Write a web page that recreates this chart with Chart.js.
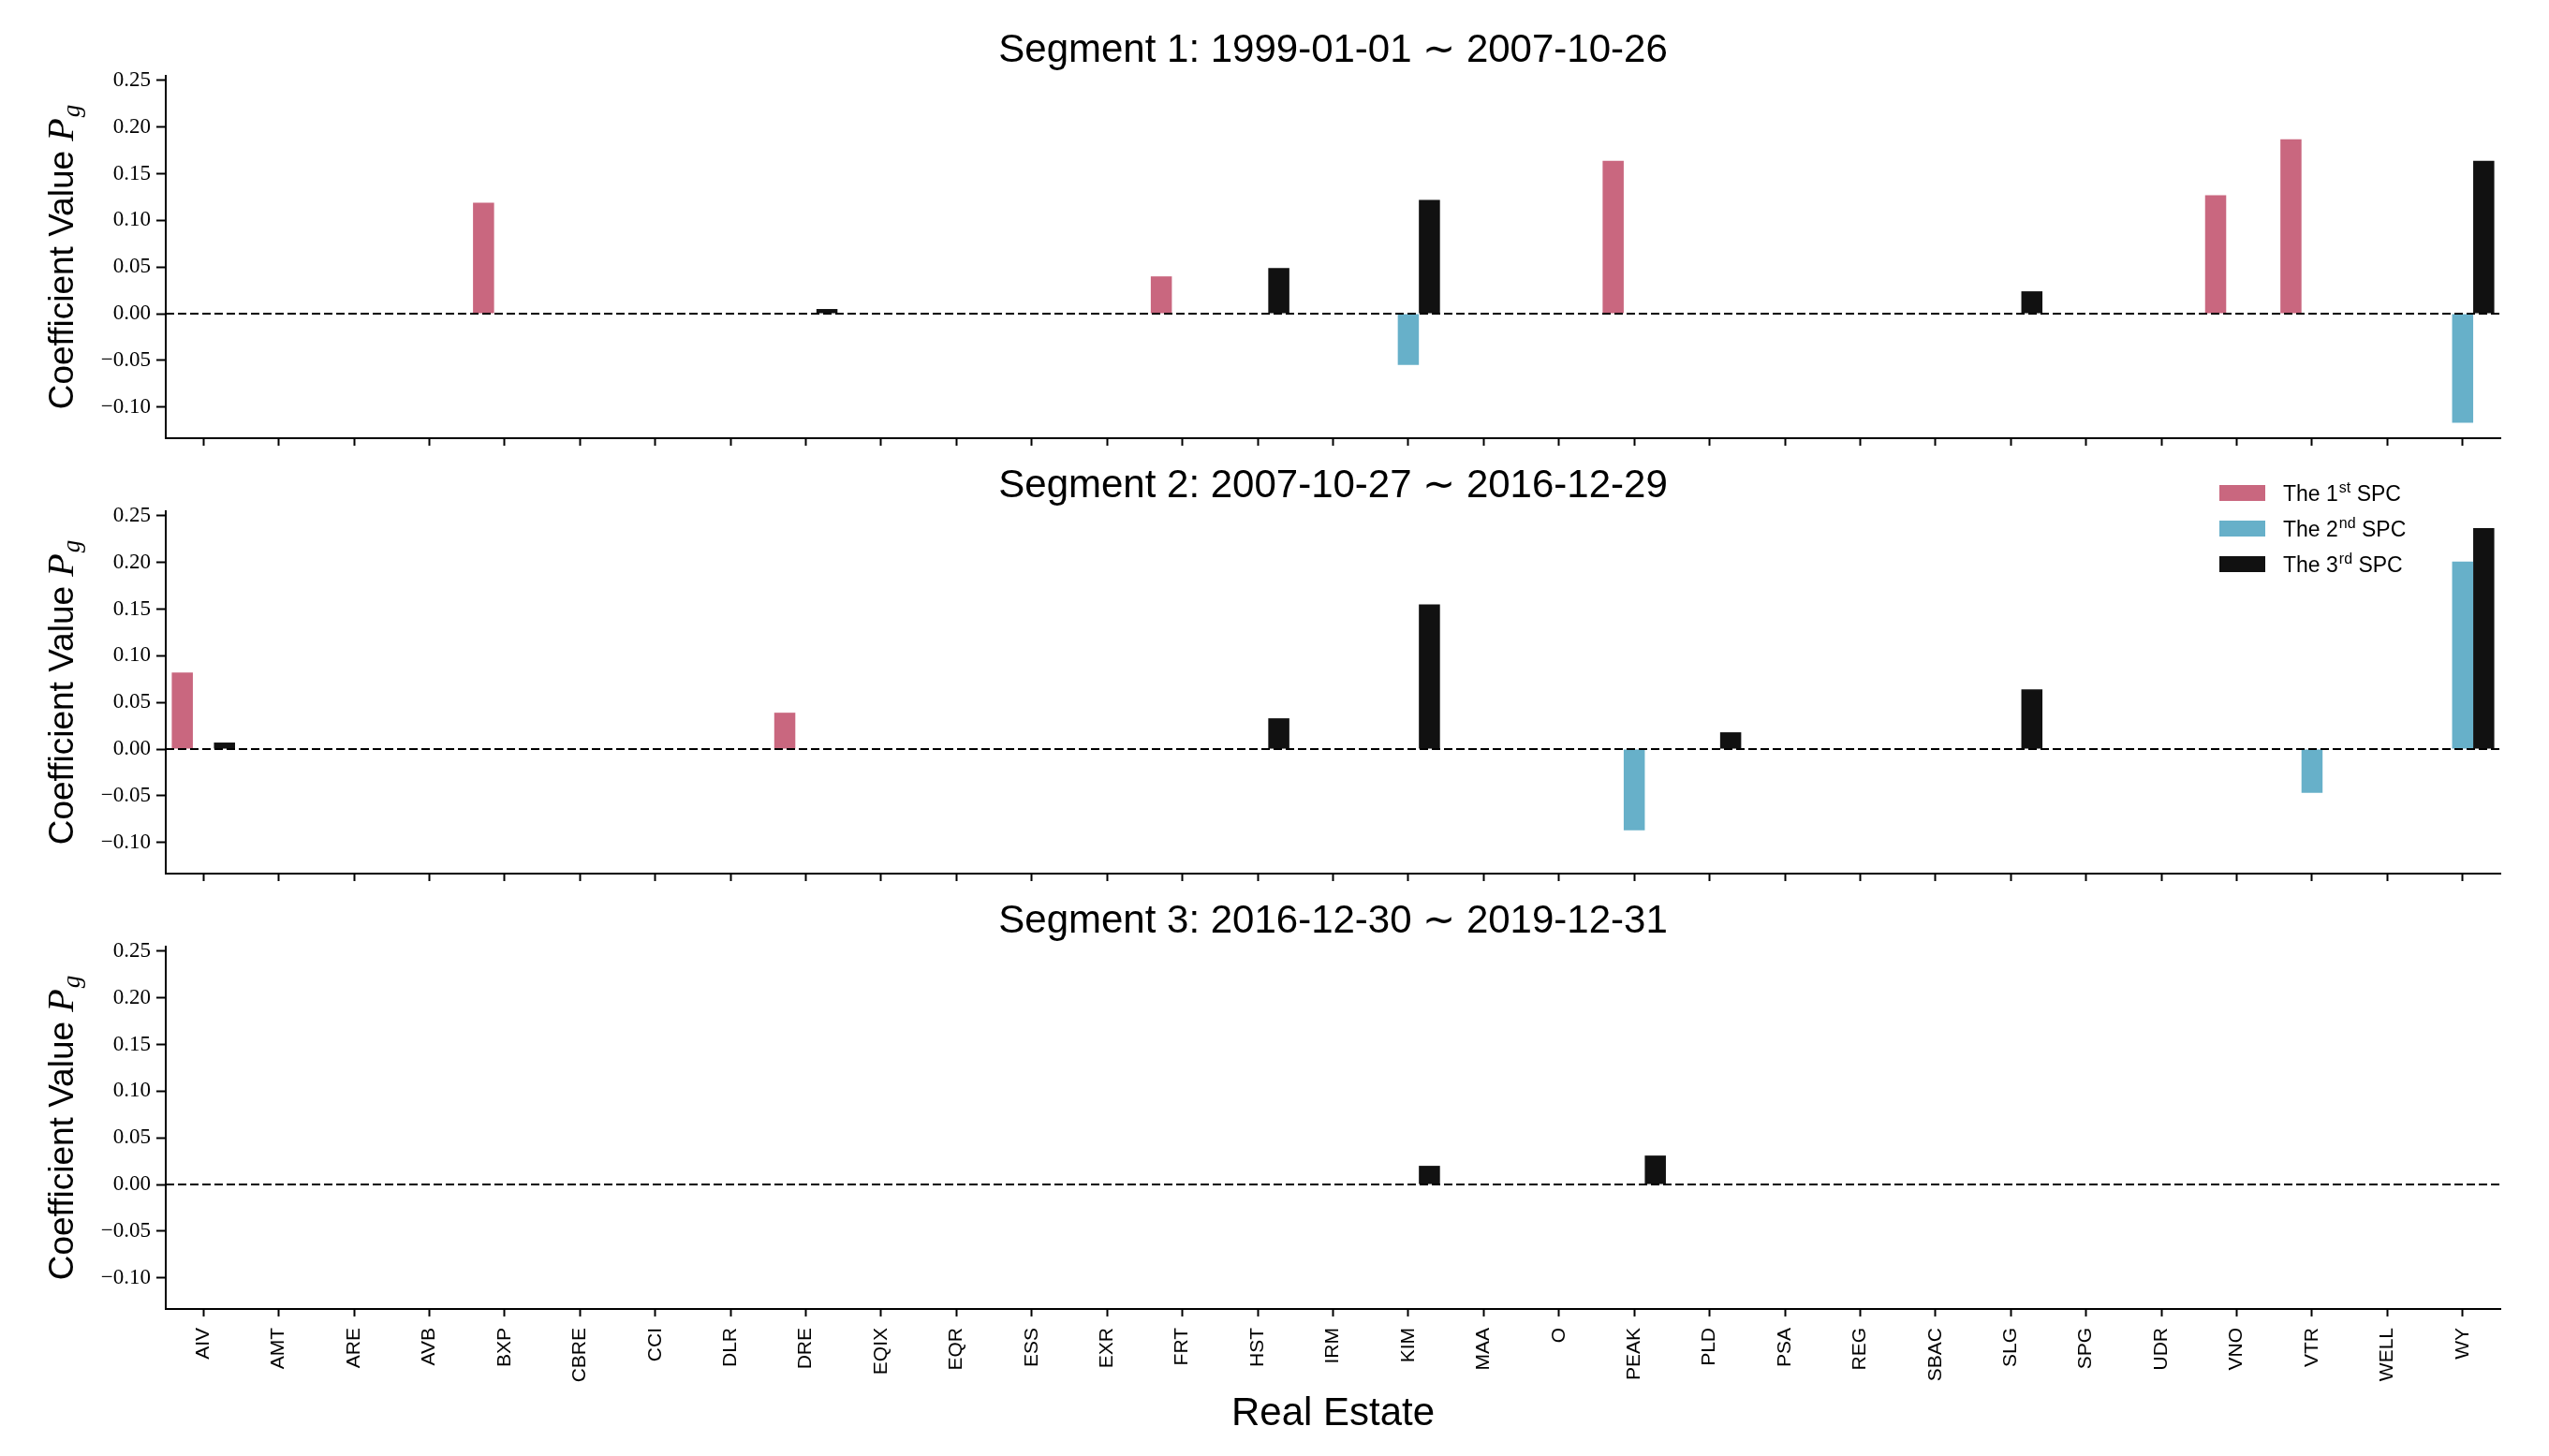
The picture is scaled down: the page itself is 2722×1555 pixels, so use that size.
<!DOCTYPE html>
<html>
<head>
<meta charset="utf-8">
<title>Segment coefficients</title>
<script src="https://cdn.jsdelivr.net/npm/chart.js@4.4.1/dist/chart.umd.min.js"></script>
<style>
  html, body { margin: 0; padding: 0; background: #ffffff; }
  #wrap { position: relative; width: 2722px; height: 1555px; background: #ffffff; overflow: hidden; }
  canvas { position: absolute; left: 0; display: block; }
</style>
</head>
<body>
<div id="wrap">
  <canvas id="c1" width="2722" height="480" style="top:0px"></canvas>
  <canvas id="c2" width="2722" height="480" style="top:465px"></canvas>
  <canvas id="c3" width="2722" height="625" style="top:930px"></canvas>
</div>
<script>
// ---------------- data ----------------
const categories = ['AIV','AMT','ARE','AVB','BXP','CBRE','CCI','DLR','DRE','EQIX',
                    'EQR','ESS','EXR','FRT','HST','IRM','KIM','MAA','O','PEAK',
                    'PLD','PSA','REG','SBAC','SLG','SPG','UDR','VNO','VTR','WELL','WY'];

const segmentTitles = ['Segment 1: 1999-01-01 \u223C 2007-10-26',
                       'Segment 2: 2007-10-27 \u223C 2016-12-29',
                       'Segment 3: 2016-12-30 \u223C 2019-12-31'];

const seriesOrdinals = ['1', '2', '3'];
const seriesSuffixes = ['st', 'nd', 'rd'];

const yTickValues = [-0.10, -0.05, 0.00, 0.05, 0.10, 0.15, 0.20, 0.25];
const yMin = -0.1335;
const yMax = 0.255;

const xAxisTitle = 'Real Estate';
const yAxisTitle = 'Coefficient Value ';
const yAxisSymbol = 'P';
const yAxisSub = 'g';

// Segment 1
const seg1Spc1 = [0, 0, 0, 0, 0.119, 0, 0, 0, 0, 0,
                  0, 0, 0, 0.040, 0, 0, 0, 0, 0, 0.164,
                  0, 0, 0, 0, 0, 0, 0, 0.127, 0.187, 0, 0];
const seg1Spc2 = [0, 0, 0, 0, 0, 0, 0, 0, 0, 0,
                  0, 0, 0, 0, 0, 0, -0.055, 0, 0, 0,
                  0, 0, 0, 0, 0, 0, 0, 0, 0, 0, -0.117];
const seg1Spc3 = [0, 0, 0, 0, 0, 0, 0, 0, 0.005, 0,
                  0, 0, 0, 0, 0.049, 0, 0.122, 0, 0, 0,
                  0, 0, 0, 0, 0.024, 0, 0, 0, 0, 0, 0.164];
// Segment 2
const seg2Spc1 = [0.082, 0, 0, 0, 0, 0, 0, 0, 0.039, 0,
                  0, 0, 0, 0, 0, 0, 0, 0, 0, 0,
                  0, 0, 0, 0, 0, 0, 0, 0, 0, 0, 0];
const seg2Spc2 = [0, 0, 0, 0, 0, 0, 0, 0, 0, 0,
                  0, 0, 0, 0, 0, 0, 0, 0, 0, -0.087,
                  0, 0, 0, 0, 0, 0, 0, 0, -0.047, 0, 0.201];
const seg2Spc3 = [0.007, 0, 0, 0, 0, 0, 0, 0, 0, 0,
                  0, 0, 0, 0, 0.033, 0, 0.155, 0, 0, 0,
                  0.018, 0, 0, 0, 0.064, 0, 0, 0, 0, 0, 0.237];
// Segment 3
const seg3Spc1 = [0, 0, 0, 0, 0, 0, 0, 0, 0, 0,
                  0, 0, 0, 0, 0, 0, 0, 0, 0, 0,
                  0, 0, 0, 0, 0, 0, 0, 0, 0, 0, 0];
const seg3Spc2 = [0, 0, 0, 0, 0, 0, 0, 0, 0, 0,
                  0, 0, 0, 0, 0, 0, 0, 0, 0, 0,
                  0, 0, 0, 0, 0, 0, 0, 0, 0, 0, 0];
const seg3Spc3 = [0, 0, 0, 0, 0, 0, 0, 0, 0, 0,
                  0, 0, 0, 0, 0, 0, 0.020, 0, 0, 0.031,
                  0, 0, 0, 0, 0, 0, 0, 0, 0, 0, 0];

// ---------------- styles ----------------
const seriesColors = ['#c9677f', '#67b0c9', '#111111'];
const SANS = '"Liberation Sans", Arial, Helvetica, sans-serif';
const SERIF = '"Liberation Serif", "Times New Roman", serif';
const AREA = { left: 177, right: 2670, top: 81, bottom: 468 };

Chart.defaults.font.family = SANS;
Chart.defaults.color = '#000000';

function fmtTick(v) {
  const s = Math.abs(v).toFixed(2);
  return v < -1e-9 ? '\u2212' + s : s;
}

function decoPlugin(idx) {
  return {
    id: 'deco' + idx,
    afterDatasetsDraw(chart) {
      const { ctx, chartArea: a } = chart;
      const y0 = chart.scales.y.getPixelForValue(0);
      ctx.save();
      ctx.strokeStyle = '#000000';
      ctx.lineWidth = 2;
      ctx.setLineDash([9, 4]);
      ctx.beginPath();
      ctx.moveTo(a.left, y0);
      ctx.lineTo(a.right, y0);
      ctx.stroke();
      ctx.restore();
    },
    afterDraw(chart) {
      const { ctx, chartArea: a } = chart;
      ctx.save();
      ctx.fillStyle = '#000000';
      // panel title
      ctx.font = '42px ' + SANS;
      ctx.textAlign = 'center';
      ctx.textBaseline = 'alphabetic';
      ctx.fillText(segmentTitles[idx], (a.left + a.right) / 2, a.top - 15);

      // y axis title (rotated) with math P_g
      ctx.save();
      ctx.translate(78, (a.top + a.bottom) / 2);
      ctx.rotate(-Math.PI / 2);
      ctx.textAlign = 'left';
      const f1 = '37px ' + SANS, f2 = 'italic 40px ' + SERIF, f3 = 'italic 27px ' + SERIF;
      ctx.font = f1; const w1 = ctx.measureText(yAxisTitle).width;
      ctx.font = f2; const w2 = ctx.measureText(yAxisSymbol).width;
      ctx.font = f3; const w3 = ctx.measureText(yAxisSub).width;
      let x = -(w1 + w2 + w3 + 1) / 2;
      ctx.font = f1; ctx.fillText(yAxisTitle, x, 0); x += w1;
      ctx.font = f2; ctx.fillText(yAxisSymbol, x, 0); x += w2 + 1;
      ctx.font = f3; ctx.fillText(yAxisSub, x, 7);
      ctx.restore();

      // legend in the middle panel
      if (idx === 1) {
        const boxL = a.right - 300, boxW = 49, boxH = 17;
        const textX = a.right - 232;
        for (let i = 0; i < 3; i++) {
          const top = a.top - 28 + i * 38;
          ctx.fillStyle = seriesColors[i];
          ctx.fillRect(boxL, top, boxW, boxH);
          ctx.fillStyle = '#000000';
          const base = top + boxH;
          ctx.textAlign = 'left';
          ctx.font = '23px ' + SANS;
          const main = 'The ' + seriesOrdinals[i];
          ctx.fillText(main, textX, base);
          let tx = textX + ctx.measureText(main).width + 1;
          ctx.font = '16px ' + SANS;
          ctx.fillText(seriesSuffixes[i], tx, base - 9);
          tx += ctx.measureText(seriesSuffixes[i]).width;
          ctx.font = '23px ' + SANS;
          ctx.fillText(' SPC', tx, base);
        }
      }

      // x axis title on the bottom panel
      if (idx === 2) {
        ctx.font = '42px ' + SANS;
        ctx.textAlign = 'center';
        ctx.fillText(xAxisTitle, (a.left + a.right) / 2, 592);
      }
      ctx.restore();
    }
  };
}

function makeChart(canvasId, idx, s1, s2, s3) {
  const canvas = document.getElementById(canvasId);
  const H = canvas.height;
  const showLabels = idx === 2;
  const values = [s1, s2, s3];
  return new Chart(canvas, {
    type: 'bar',
    data: {
      labels: categories,
      datasets: values.map((v, i) => ({
        label: 'The ' + seriesOrdinals[i] + seriesSuffixes[i] + ' SPC',
        data: v,
        backgroundColor: seriesColors[i],
        borderWidth: 0,
        categoryPercentage: 0.84,
        barPercentage: 1.0
      }))
    },
    options: {
      responsive: false,
      animation: false,
      events: [],
      layout: { padding: { top: AREA.top, right: 2722 - AREA.right, left: 0, bottom: 0 } },
      plugins: {
        legend: { display: false },
        title: { display: false },
        tooltip: { enabled: false }
      },
      scales: {
        x: {
          type: 'category',
          offset: true,
          grid: {
            offset: false,
            drawOnChartArea: false,
            drawTicks: true,
            tickLength: 8,
            tickWidth: 2,
            tickColor: '#000000'
          },
          border: { display: true, color: '#000000', width: 2 },
          ticks: {
            display: showLabels,
            autoSkip: false,
            minRotation: 90,
            maxRotation: 90,
            padding: 12,
            color: '#000000',
            font: { family: SANS, size: 21 }
          },
          afterFit(scale) {
            scale.height = H - AREA.bottom;
            scale.paddingLeft = 0; scale.paddingRight = 0;
          }
        },
        y: {
          type: 'linear',
          min: yMin,
          max: yMax,
          grid: {
            drawOnChartArea: false,
            drawTicks: true,
            tickLength: 10,
            tickWidth: 2,
            tickColor: '#000000'
          },
          border: { display: true, color: '#000000', width: 2 },
          ticks: {
            padding: 6,
            color: '#000000',
            font: { family: SERIF, size: 23 },
            callback: (v) => fmtTick(v)
          },
          afterBuildTicks(scale) { scale.ticks = yTickValues.map(v => ({ value: v })); },
          afterFit(scale) {
            scale.width = AREA.left;
            scale.paddingTop = 0; scale.paddingBottom = 0;
          }
        }
      }
    },
    plugins: [decoPlugin(idx)]
  });
}

makeChart('c1', 0, seg1Spc1, seg1Spc2, seg1Spc3);
makeChart('c2', 1, seg2Spc1, seg2Spc2, seg2Spc3);
makeChart('c3', 2, seg3Spc1, seg3Spc2, seg3Spc3);
</script>
</body>
</html>
